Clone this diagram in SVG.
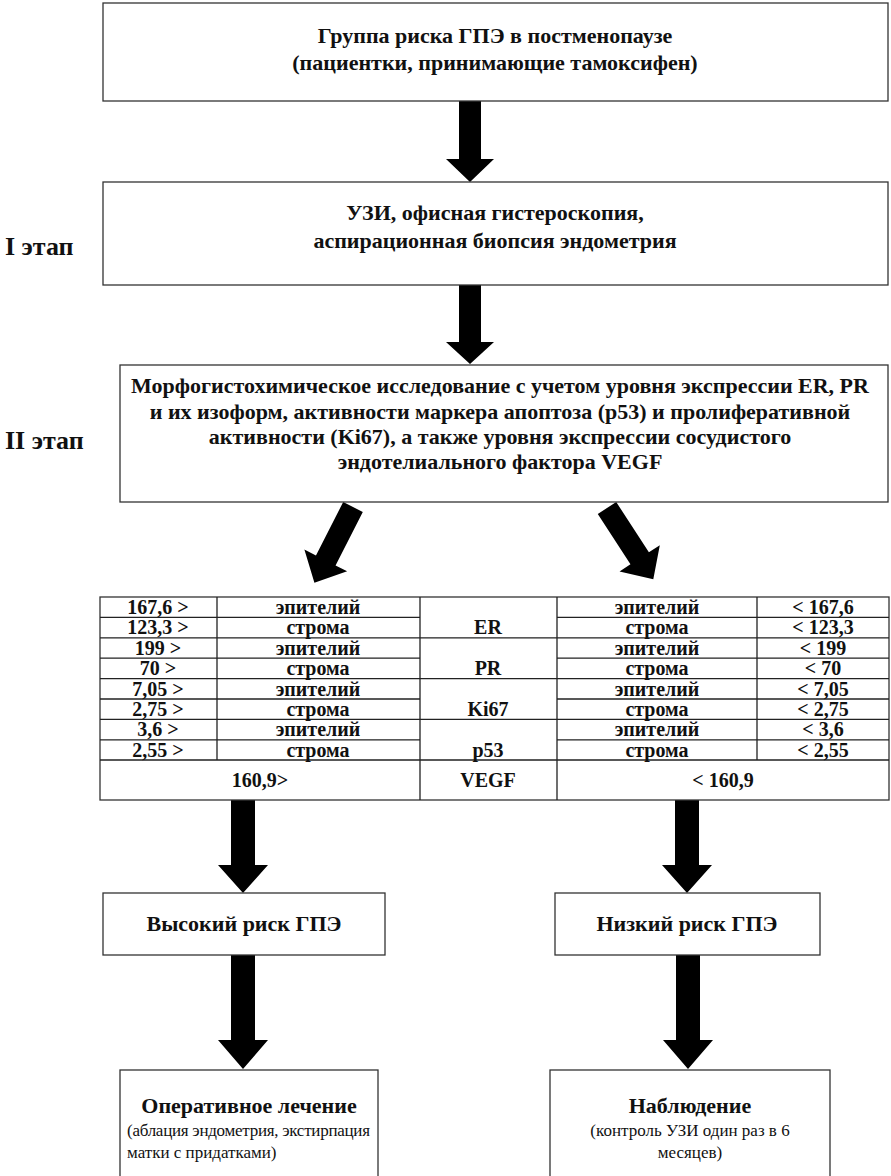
<svg xmlns="http://www.w3.org/2000/svg" width="891" height="1176" viewBox="0 0 891 1176">
<style>
.box{fill:#fff;stroke:#333;stroke-width:1.3}
.ln{stroke:#222;stroke-width:1.3;fill:none}
.arr{fill:#000}
.h{font-weight:bold;font-size:22px;fill:#111;text-anchor:middle}
.lbl{font-weight:bold;font-size:26px;fill:#111}
.t{font-weight:bold;font-size:20px;fill:#111;text-anchor:middle}
.s{font-size:17px;fill:#111}
</style>
<rect width="891" height="1176" fill="#fff"/>
<g id="connectors">
<path class="arr" d="M459,101 H481 V159 H494 L470,182 L446,159 H459 Z"/>
<path class="arr" d="M459,285 H481 V342 H494 L470,364 L446,342 H459 Z"/>
<path class="arr" transform="translate(353,507) rotate(27)" d="M-11,0 H11 V60 H24 L0,85 L-24,60 H-11 Z"/>
<path class="arr" transform="translate(607,508) rotate(-33)" d="M-11,0 H11 V60 H24 L0,85 L-24,60 H-11 Z"/>
<path class="arr" d="M231,800 H255 V865 H268 L243,893 L218,865 H231 Z"/>
<path class="arr" d="M675,800 H699 V865 H712 L687,893 L662,865 H675 Z"/>
<path class="arr" d="M231,955 H255 V1040 H268 L243,1069 L218,1040 H231 Z"/>
<path class="arr" d="M676,955 H700 V1040 H713 L688,1069 L663,1040 H676 Z"/>
</g>
<g font-family="Liberation Serif, Times New Roman, serif">
<g id="n1">
<rect class="box" x="103" y="3" width="785" height="98"/>
<text class="h" x="495" y="43">Группа риска ГПЭ в постменопаузе</text>
<text class="h" x="495" y="70">(пациентки, принимающие тамоксифен)</text>
</g>
<g id="stage1"><text class="lbl" x="5" y="255">I этап</text></g>
<g id="n2">
<rect class="box" x="103" y="182" width="785" height="103"/>
<text class="h" x="495" y="220">УЗИ, офисная гистероскопия,</text>
<text class="h" x="495" y="248">аспирационная биопсия эндометрия</text>
</g>
<g id="stage2"><text class="lbl" x="5" y="449">II этап</text></g>
<g id="n3">
<rect class="box" x="120" y="365" width="768" height="137"/>
<text class="h" x="500" y="393">Морфогистохимическое исследование с учетом уровня экспрессии ER, PR</text>
<text class="h" x="500" y="419">и их изоформ, активности маркера апоптоза (p53) и пролиферативной</text>
<text class="h" x="500" y="444">активности (Ki67), а также уровня экспрессии сосудистого</text>
<text class="h" x="500" y="469">эндотелиального фактора VEGF</text>
</g>
<g id="table">
<rect class="box" x="100" y="597" width="789" height="203"/>
<path class="ln" d="M217,597 V760 M420,597 V800 M557,597 V800 M757,597 V760 M100,760 H889"/>
<path class="ln" d="M100,617.4 H420 M557,617.4 H889 M100,658.2 H420 M557,658.2 H889 M100,699 H420 M557,699 H889 M100,739.8 H420 M557,739.8 H889"/>
<path class="ln" d="M100,637.8 H889 M100,678.6 H889 M100,719.4 H889"/>
<g class="t">
<text x="158" y="614">167,6 &gt;</text><text x="318" y="614">эпителий</text><text x="657" y="614">эпителий</text><text x="823" y="614">&lt; 167,6</text>
<text x="158" y="634">123,3 &gt;</text><text x="318" y="634">строма</text><text x="488" y="634">ER</text><text x="657" y="634">строма</text><text x="823" y="634">&lt; 123,3</text>
<text x="158" y="655">199 &gt;</text><text x="318" y="655">эпителий</text><text x="657" y="655">эпителий</text><text x="823" y="655">&lt; 199</text>
<text x="158" y="675">70 &gt;</text><text x="318" y="675">строма</text><text x="488" y="675">PR</text><text x="657" y="675">строма</text><text x="823" y="675">&lt; 70</text>
<text x="158" y="696">7,05 &gt;</text><text x="318" y="696">эпителий</text><text x="657" y="696">эпителий</text><text x="823" y="696">&lt; 7,05</text>
<text x="158" y="716">2,75 &gt;</text><text x="318" y="716">строма</text><text x="488" y="716">Ki67</text><text x="657" y="716">строма</text><text x="823" y="716">&lt; 2,75</text>
<text x="158" y="736">3,6 &gt;</text><text x="318" y="736">эпителий</text><text x="657" y="736">эпителий</text><text x="823" y="736">&lt; 3,6</text>
<text x="158" y="757">2,55 &gt;</text><text x="318" y="757">строма</text><text x="488" y="757">p53</text><text x="657" y="757">строма</text><text x="823" y="757">&lt; 2,55</text>
<text x="260" y="787">160,9&gt;</text><text x="488" y="787">VEGF</text><text x="723" y="787">&lt; 160,9</text>
</g>
</g>
<g id="n4">
<rect class="box" x="103" y="893" width="282" height="62"/>
<text class="h" x="244" y="931">Высокий риск ГПЭ</text>
</g>
<g id="n5">
<rect class="box" x="555" y="893" width="265" height="62"/>
<text class="h" x="687" y="931">Низкий риск ГПЭ</text>
</g>
<g id="n6">
<rect class="box" x="120" y="1070" width="258" height="110"/>
<text class="h" x="249" y="1113">Оперативное лечение</text>
<text class="s" x="127" y="1136" textLength="243" lengthAdjust="spacing">(аблация  эндометрия,  экстирпация</text>
<text class="s" x="127" y="1158">матки с придатками)</text>
</g>
<g id="n7">
<rect class="box" x="550" y="1070" width="280" height="110"/>
<text class="h" x="690" y="1113">Наблюдение</text>
<text class="s" x="690" y="1136" text-anchor="middle">(контроль УЗИ один раз в 6</text>
<text class="s" x="690" y="1158" text-anchor="middle">месяцев)</text>
</g>
</g>
</svg>
